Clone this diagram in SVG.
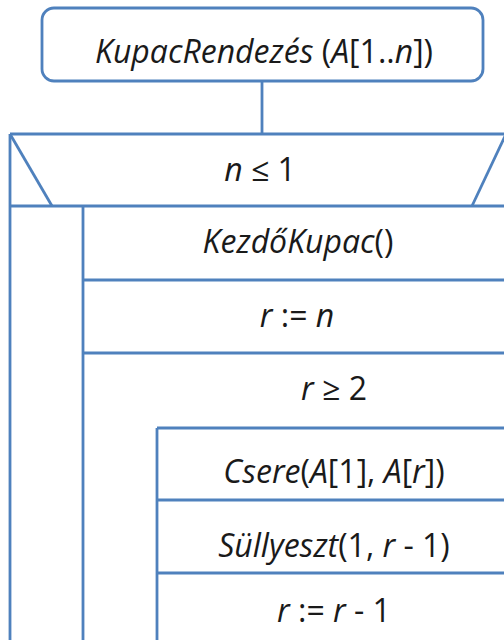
<svg xmlns="http://www.w3.org/2000/svg" width="504" height="640" viewBox="0 0 504 640">
<style>
.s{fill:none;stroke:#4F81BD;stroke-width:2.8}
.t{font-family:"Open Sans","Liberation Sans",sans-serif;font-size:32px;fill:#1a1a1a;text-anchor:middle}
.i{font-style:italic}
</style>
<rect width="504" height="640" fill="#fff"/>
<g id="start">
<rect class="s" x="42" y="8" width="441" height="73" rx="12" ry="12"/>
<text class="t" x="264" y="63"><tspan class="i">KupacRendezés</tspan> (<tspan class="i">A</tspan>[1..<tspan class="i">n</tspan>])</text>
</g>
<g id="connectors">
<line class="s" x1="262" y1="81" x2="262" y2="134"/>
</g>
<g id="branch">
<line class="s" x1="10" y1="134" x2="506" y2="134"/>
<line class="s" x1="10" y1="134" x2="10" y2="640"/>
<line class="s" x1="10" y1="134" x2="52" y2="206"/>
<line class="s" x1="506" y1="134" x2="472" y2="206"/>
<line class="s" x1="10" y1="206" x2="504" y2="206"/>
<line class="s" x1="83" y1="206" x2="83" y2="640"/>
<text class="t" x="260" y="181"><tspan class="i">n</tspan> ≤ 1</text>
</g>
<g id="init">
<text class="t" x="298" y="253"><tspan class="i">KezdőKupac</tspan>()</text>
<line class="s" x1="83" y1="280" x2="504" y2="280"/>
</g>
<g id="assign">
<text class="t" x="297" y="327"><tspan class="i">r</tspan> := <tspan class="i">n</tspan></text>
<line class="s" x1="83" y1="353" x2="504" y2="353"/>
</g>
<g id="loop">
<text class="t" x="334" y="400"><tspan class="i">r</tspan> ≥ 2</text>
<line class="s" x1="157" y1="428" x2="504" y2="428"/>
<line class="s" x1="157" y1="428" x2="157" y2="640"/>
</g>
<g id="swap">
<text class="t" x="334" y="483"><tspan class="i">Csere</tspan>(<tspan class="i">A</tspan>[1], <tspan class="i">A</tspan>[<tspan class="i">r</tspan>])</text>
<line class="s" x1="157" y1="500" x2="504" y2="500"/>
</g>
<g id="sink">
<text class="t" x="334" y="557"><tspan class="i">Süllyeszt</tspan>(1, <tspan class="i">r</tspan> - 1)</text>
<line class="s" x1="157" y1="573" x2="504" y2="573"/>
</g>
<g id="decr">
<text class="t" x="334" y="622"><tspan class="i">r</tspan> := <tspan class="i">r</tspan> - 1</text>
</g>
</svg>
